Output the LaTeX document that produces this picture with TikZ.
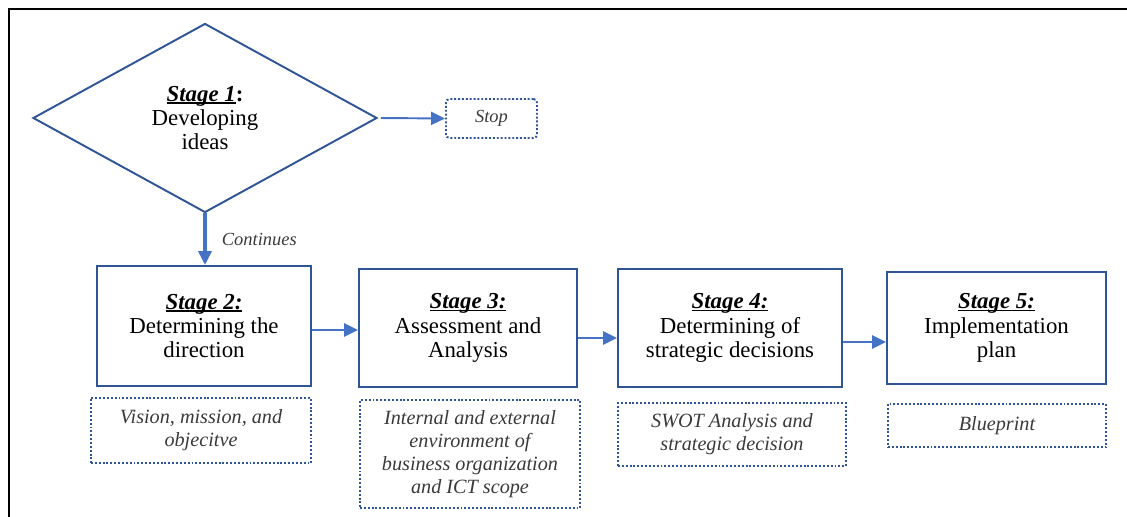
\documentclass[tikz,border=0pt]{standalone}
\usepackage{fontspec}
\setmainfont{Liberation Serif}
\usepackage{tikz}
\usetikzlibrary{positioning}
\usetikzlibrary{shapes.geometric}
\usetikzlibrary{arrows.meta}

\definecolor{bluscuro}{HTML}{2F5597}
\definecolor{blu}{HTML}{4472C4}
\definecolor{grigio}{HTML}{3A3A3A}

\newsavebox{\titolobox}
\newcommand{\fase}[1]{\sbox{\titolobox}{\textbf{\textit{#1}}}%
  \rlap{\rule[-1.5pt]{\wd\titolobox}{0.7pt}}\usebox{\titolobox}}

\tikzset{
  fasebox/.style={draw=bluscuro, line width=1.1pt, align=center, inner sep=2pt,
    font=\fontsize{13}{13.9}\selectfont},
  rombo/.style={diamond, draw=bluscuro, line width=1.1pt, align=center, inner sep=0pt,
    minimum width=6.88cm, minimum height=3.78cm, font=\fontsize{13}{13.9}\selectfont},
  nota/.style={draw=bluscuro, line width=1.1pt, dash pattern=on 1.1pt off 1.1pt,
    align=center, inner sep=2pt, text=grigio, font=\fontsize{11.5}{13}\selectfont\itshape},
  freccia/.style={-{Triangle[length=0.28cm, width=0.26cm]}, draw=blu, line width=1.5pt},
}

\begin{document}
\begin{tikzpicture}
\useasboundingbox (0,0) rectangle (22.54,10.34);

% cornice
\draw[line width=1.1pt] (0.18,0) -- (0.18,10.16) -- (22.54,10.16);

% fase 1
\node[rombo] (s1) at (4.10,7.98) {\fase{Stage 1}\textbf{:}\\Developing\\ideas};
\node[nota, rounded corners=2pt, minimum width=1.82cm, minimum height=0.78cm,
  font=\fontsize{10.5}{12}\selectfont\itshape] (stop) at (9.83,7.97) {Stop};

% fasi
\node[fasebox, minimum width=4.28cm, minimum height=2.40cm] (s2) at (4.08,3.82)
  {\fase{Stage 2:}\\Determining the\\direction};
\node[fasebox, minimum width=4.36cm, minimum height=2.36cm] (s3) at (9.36,3.78)
  {\fase{Stage 3:}\\Assessment and\\Analysis};
\node[fasebox, minimum width=4.48cm, minimum height=2.36cm] (s4) at (14.60,3.78)
  {\fase{Stage 4:}\\Determining of\\strategic decisions};
\node[fasebox, minimum width=4.38cm, minimum height=2.24cm] (s5) at (19.93,3.78)
  {\fase{Stage 5:}\\Implementation\\plan};

% note
\node[nota, minimum width=4.40cm, minimum height=1.30cm] (n2) at (4.02,1.73)
  {Vision, mission, and\\objecitve};
\node[nota, minimum width=4.40cm, minimum height=2.16cm] (n3) at (9.40,1.26)
  {Internal and external\\environment of\\business organization\\and ICT scope};
\node[nota, minimum width=4.56cm, minimum height=1.26cm] (n4) at (14.64,1.65)
  {SWOT Analysis and\\strategic decision};
\node[nota, minimum width=4.36cm, minimum height=0.86cm] (n5) at (19.94,1.83)
  {Blueprint};

% frecce
\draw[freccia, line width=1.1pt, shorten <=0.06cm] (s1.east) -- (stop.west);
\draw[freccia, line width=2.3pt] (s1.south) -- node[right=0.18cm, text=grigio,
  font=\fontsize{10.5}{12}\selectfont\itshape] (cont) {Continues} (s1.south |- s2.north);
\foreach \a/\b/\d in {s2/s3/-0.08, s3/s4/-0.20, s4/s5/-0.28} {
    \coordinate (p\a) at ([yshift=\d cm]\a.east);
    \draw[freccia] (p\a) -- (p\a -| \b.west);
}
\end{tikzpicture}
\end{document}
